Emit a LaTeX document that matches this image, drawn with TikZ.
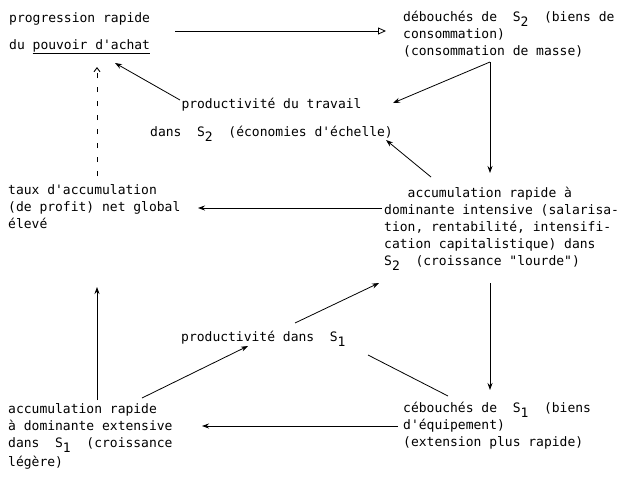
\documentclass[tikz,border=0pt]{standalone}
\usepackage{fontspec}
\setmonofont{DejaVu Sans Mono}
\usetikzlibrary{arrows.meta}
\newcommand\mysub[1]{\raisebox{-5pt}{#1}}
\begin{document}
\begin{tikzpicture}[x=1pt,y=-1pt,
  txt/.style={anchor=base west, inner sep=0pt, align=left,
    font=\ttfamily\fontsize{13}{17}\selectfont},
  arr/.style={-{Stealth[length=7pt,width=5pt]}, line width=0.8pt},
  openarr/.style={-{Triangle[open,length=8pt,width=7pt]}, line width=0.8pt},
  dasharr/.style={-{Straight Barb[length=4pt,width=6pt]}, line width=0.9pt, dash pattern=on 5pt off 9pt},
  plain/.style={line width=0.8pt}
]
\useasboundingbox[fill=white] (0,0) rectangle (634,477);

% base anchor = baseline of the last line
\node[txt] (prog) at (9,49) {progression rapide\\[10pt]du \underline{pouvoir d'achat}};
\node[txt] (debS2) at (403,55) {débouchés de\ \ S\mysub{2}\ \ (biens de\\consommation)\\(consommation de masse)};
\node[txt] (prodtrav) at (150,136) {\ \ \ \ productivité du travail\\[11pt]dans\ \ S\mysub{2}\ \ (économies d'échelle)};
\node[txt] (taux) at (8,228) {taux d'accumulation\\(de profit) net global\\élevé};
\node[txt] (accint) at (384,265) {\ \ \ accumulation rapide à\\dominante intensive (salarisa-\\tion, rentabilité, intensifi-\\cation capitalistique) dans\\S\mysub{2}\ \ (croissance "lourde")};
\node[txt] (prodS1) at (181,341) {productivité dans\ \ S\mysub{1}};
\node[txt] (debS1) at (403,446) {cébouchés de\ \ S\mysub{1}\ \ (biens\\d'équipement)\\(extension plus rapide)};
\node[txt] (accext) at (8,466) {accumulation rapide\\à dominante extensive\\dans\ \ S\mysub{1}\ \ (croissance\\[2pt]légère)};

\coordinate (c1) at (175,31);  \coordinate (c2) at (386,31);
\coordinate (c3) at (490,62);  \coordinate (c4) at (393,103);
\coordinate (c5) at (490,173);
\coordinate (c6) at (180,100); \coordinate (c7) at (115,63);
\coordinate (c8) at (97,176);  \coordinate (c9) at (97,67);
\coordinate (c10) at (431,177); \coordinate (c11) at (386,140);
\coordinate (c12) at (382,208); \coordinate (c13) at (198,208);
\coordinate (c14) at (490,283); \coordinate (c15) at (490,390);
\coordinate (c16) at (97,400); \coordinate (c17) at (97,287);
\coordinate (c18) at (295,323); \coordinate (c19) at (379,283);
\coordinate (c20) at (142,398); \coordinate (c21) at (248,346);
\coordinate (c22) at (368,355); \coordinate (c23) at (448,396);
\coordinate (c24) at (398,426); \coordinate (c25) at (202,426);

\draw[openarr] (c1) -- (c2);
\draw[arr] (c3) -- (c4);
\draw[arr] (c3) -- (c5);
\draw[arr] (c6) -- (c7);
\draw[dasharr] (c8) -- (c9);
\draw[arr] (c10) -- (c11);
\draw[arr] (c12) -- (c13);
\draw[arr] (c14) -- (c15);
\draw[arr] (c16) -- (c17);
\draw[arr] (c18) -- (c19);
\draw[arr] (c20) -- (c21);
\draw[plain] (c22) -- (c23);
\draw[arr] (c24) -- (c25);
\end{tikzpicture}
\end{document}
